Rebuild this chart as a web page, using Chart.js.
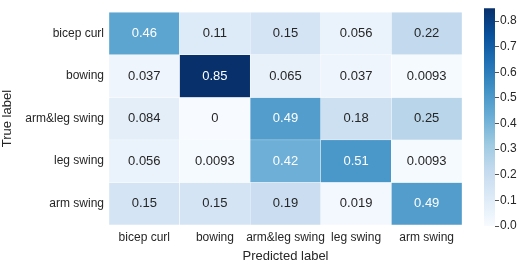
<!DOCTYPE html>
<html>
<head>
<meta charset="utf-8">
<script src="https://cdn.jsdelivr.net/npm/chart.js@4.4.1/dist/chart.umd.min.js"></script>
<style>
  body { margin: 0; background: #fff; }
  #main { position: absolute; left: 0; top: 0; }
  #cbar { position: absolute; left: 470px; top: 0; }
</style>
</head>
<body>
<canvas id="main" width="522" height="264"></canvas>
<canvas id="cbar" width="52" height="264"></canvas>
<script>
// confusion matrix data
const predictedLabels = ['bicep curl', 'bowing', 'arm&leg swing', 'leg swing', 'arm swing'];
const trueLabels = ['bicep curl', 'bowing', 'arm&leg swing', 'leg swing', 'arm swing'];
const rowBicepCurl = [0.46, 0.11, 0.15, 0.056, 0.22];
const rowBowing = [0.037, 0.85, 0.065, 0.037, 0.0093];
const rowArmLegSwing = [0.084, 0, 0.49, 0.18, 0.25];
const rowLegSwing = [0.056, 0.0093, 0.42, 0.51, 0.0093];
const rowArmSwing = [0.15, 0.15, 0.19, 0.019, 0.49];
const colorbarTicks = [0, 0.1, 0.2, 0.3, 0.4, 0.5, 0.6, 0.7, 0.8];
const vmin = 0;
const vmax = 0.85;

const rows = [rowBicepCurl, rowBowing, rowArmLegSwing, rowLegSwing, rowArmSwing];

Chart.defaults.font.family = '"Liberation Sans", Arial, sans-serif';
Chart.defaults.color = '#262626';

// matplotlib "Blues"
const blues = ['#f7fbff', '#deebf7', '#c6dbef', '#9ecae1', '#6baed6', '#4292c6', '#2171b5', '#08519c', '#08306b'];

function hexToRgb(h) {
    return [parseInt(h.slice(1, 3), 16), parseInt(h.slice(3, 5), 16), parseInt(h.slice(5, 7), 16)];
}

function bluesRgb(v) {
    let t = (v - vmin) / (vmax - vmin);
    t = Math.max(0, Math.min(1, t));
    const pos = t * (blues.length - 1);
    const i = Math.min(Math.floor(pos), blues.length - 2);
    const f = pos - i;
    const a = hexToRgb(blues[i]);
    const b = hexToRgb(blues[i + 1]);
    return a.map((c, k) => Math.round(c + (b[k] - c) * f));
}

function bluesColor(v) {
    const c = bluesRgb(v);
    return `rgb(${c[0]},${c[1]},${c[2]})`;
}

// seaborn picks text colour from the cell luminance
function textColor(v) {
    const lum = bluesRgb(v).map(c => {
        c = c / 255;
        return c <= 0.03928 ? c / 12.92 : Math.pow((c + 0.055) / 1.055, 2.4);
    });
    const l = 0.2126 * lum[0] + 0.7152 * lum[1] + 0.0722 * lum[2];
    return l > 0.408 ? '#262626' : '#ffffff';
}

const datasets = rows.map((row, r) => ({
    label: trueLabels[r],
    data: row.map(() => [r, r + 1]),
    values: row,
    backgroundColor: row.map(v => bluesColor(v)),
    borderColor: '#ffffff',
    borderWidth: 0.5,
    borderSkipped: false,
    barPercentage: 1,
    categoryPercentage: 1,
    grouped: false
}));

const annotatePlugin = {
    id: 'annotate',
    afterDatasetsDraw(chart) {
        const ctx = chart.ctx;
        ctx.save();
        ctx.font = '13px "Liberation Sans", Arial, sans-serif';
        ctx.textAlign = 'center';
        ctx.textBaseline = 'middle';
        chart.data.datasets.forEach((ds, di) => {
            const meta = chart.getDatasetMeta(di);
            meta.data.forEach((el, i) => {
                const v = ds.values[i];
                const p = el.getCenterPoint();
                ctx.fillStyle = textColor(v);
                ctx.fillText(String(v), p.x, p.y);
            });
        });
        ctx.restore();
    }
};

new Chart(document.getElementById('main'), {
    type: 'bar',
    data: {
        labels: predictedLabels,
        datasets: datasets
    },
    options: {
        responsive: false,
        animation: false,
        layout: { padding: { left: 0, top: 3, right: 60, bottom: 0 } },
        plugins: {
            legend: { display: false },
            tooltip: { enabled: false }
        },
        scales: {
            x: {
                grid: { display: false, drawTicks: false },
                border: { display: false },
                ticks: { font: { size: 12 }, padding: 5, maxRotation: 0, autoSkip: false },
                title: { display: true, text: 'Predicted label', font: { size: 13 }, padding: 0 },
                afterFit(scale) { scale.height = 39; }
            },
            y: {
                type: 'linear',
                reverse: true,
                min: 0,
                max: 5,
                grid: { display: false, drawTicks: false },
                border: { display: false },
                afterBuildTicks(scale) {
                    scale.ticks = trueLabels.map((_, i) => ({ value: i + 0.5 }));
                },
                ticks: {
                    font: { size: 12 },
                    padding: 5,
                    autoSkip: false,
                    callback: (value, index) => trueLabels[index]
                },
                title: { display: true, text: 'True label', font: { size: 13 }, padding: 0 },
                afterFit(scale) { scale.width = 109; }
            }
        }
    },
    plugins: [annotatePlugin]
});

// colour bar
new Chart(document.getElementById('cbar'), {
    type: 'bar',
    data: {
        labels: [''],
        datasets: [{
            data: [[vmin, vmax]],
            backgroundColor(context) {
                const area = context.chart.chartArea;
                if (!area) return blues[0];
                const g = context.chart.ctx.createLinearGradient(0, area.bottom, 0, area.top);
                blues.forEach((c, i) => g.addColorStop(i / (blues.length - 1), c));
                return g;
            },
            borderWidth: 0,
            barPercentage: 1,
            categoryPercentage: 1
        }]
    },
    options: {
        responsive: false,
        animation: false,
        layout: { padding: { left: 14, top: 4, right: 0, bottom: 38 } },
        plugins: {
            legend: { display: false },
            tooltip: { enabled: false }
        },
        scales: {
            x: { display: false },
            y: {
                position: 'right',
                min: vmin,
                max: vmax,
                grid: { drawOnChartArea: false, drawTicks: true, tickLength: 4, color: '#262626', lineWidth: 0.8 },
                border: { display: false },
                afterBuildTicks(scale) {
                    scale.ticks = colorbarTicks.map(v => ({ value: v }));
                },
                ticks: {
                    font: { size: 12 },
                    padding: 1,
                    autoSkip: false,
                    callback: v => v.toFixed(1)
                },
                afterFit(scale) { scale.width = 27; }
            }
        }
    }
});
</script>
</body>
</html>
